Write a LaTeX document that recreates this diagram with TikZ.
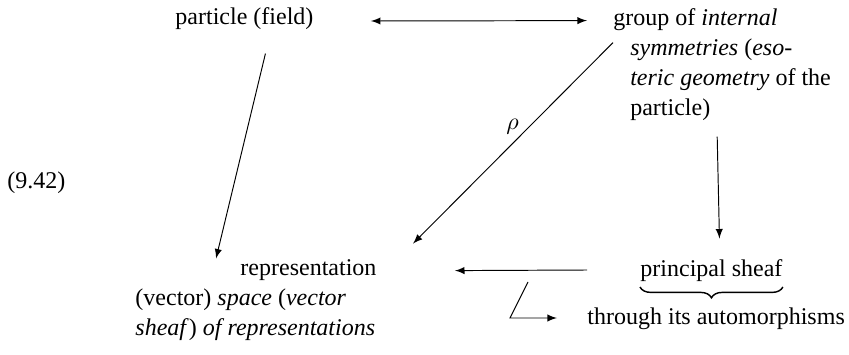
\documentclass[tikz,border=0pt]{standalone}
\usepackage{fontspec}
\setmainfont{Liberation Serif}
\usetikzlibrary{decorations.pathreplacing}
\begin{document}
\begin{tikzpicture}[x=0.41667pt, y=-0.41667pt, >=latex,
    font=\fontsize{10}{12.5}\selectfont,
    txt/.style={inner sep=0pt, align=left}]
\useasboundingbox (0,0) rectangle (849,354);
\node[txt, anchor=base west] (eq) at (7,188) {(9.42)};
\node[txt, anchor=base west] (particle) at (175,25) {particle (field)};
\node[txt, anchor=north west] (group) at (613,8.6) {group of \textit{internal}\\
    \hspace*{7pt}\textit{symmetries} (\textit{eso-}\\
    \hspace*{7pt}\textit{teric geometry} of the\\
    \hspace*{7pt}particle)};
\node[txt, anchor=north west] (rep) at (135,259.6) {\hspace*{43.75pt}representation\\
    (vector) \textit{space} (\textit{vector}\\
    \textit{sheaf}) \textit{of representations}};
\node[txt, anchor=base west] (principal) at (640,276) {principal sheaf};
\node[txt, anchor=base west] (auto) at (587,324) {through its automorphisms};
\coordinate (act) at (528,282);
% arrows
\draw[<->] ([shift={(57,-4)}]particle.base east) -- ([shift={(-26,12)}]group.north west);
\draw[->] ([shift={(21,23)}]particle.south) -- ([shift={(81,-1)}]rep.north west);
\draw[->] ([shift={(0,34)}]group.north west) -- node[pos=0.4625, above left, inner sep=0.5pt] {$\rho$} ([shift={(278,-16)}]rep.north west);
\draw[->] ([shift={(-5,15)}]group.south) -- ([shift={(8,-20)}]principal.north);
\draw[->] ([shift={(-53,-6)}]principal.base west) -- ([shift={(78,11)}]rep.north east);
\draw[->] (act) -- ++(-18,36) -- ([shift={(-30,-6)}]auto.base west);
% brace under the principal sheaf
\draw[line width=0.6pt, decorate, decoration={brace, mirror, amplitude=4.5pt}]
    ([shift={(0,11)}]principal.base west) -- ([shift={(0,11)}]principal.base east);
\end{tikzpicture}
\end{document}
